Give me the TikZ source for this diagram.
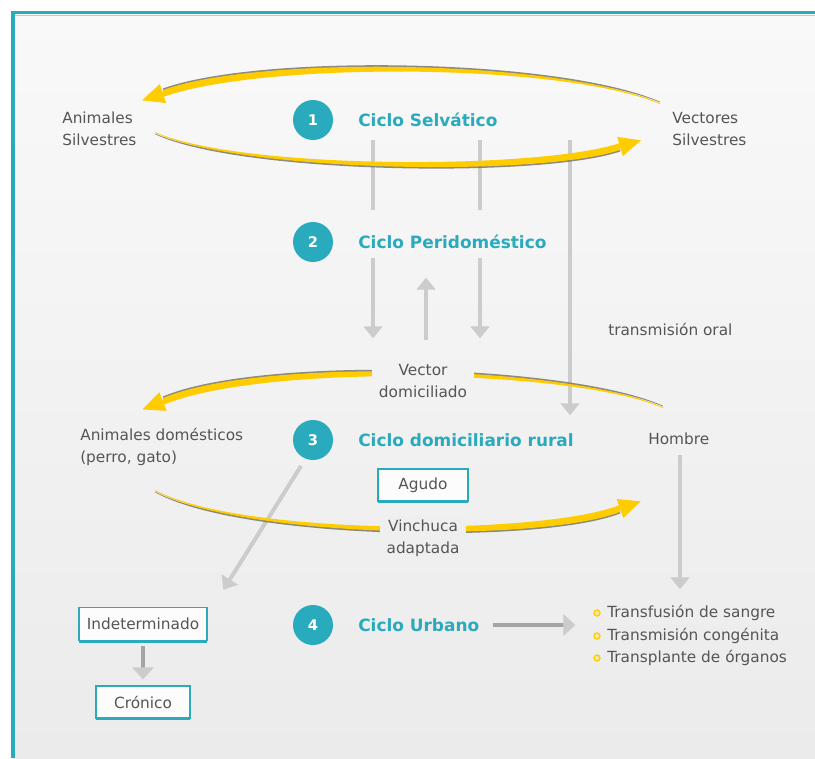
\documentclass[tikz,border=0pt]{standalone}
\usepackage{fontspec}
\setmainfont{DejaVu Sans}
\usetikzlibrary{arrows.meta,calc}
\definecolor{teal1}{HTML}{2AAABD}
\definecolor{ylw}{HTML}{FFCC00}
\definecolor{txt}{HTML}{555555}
\definecolor{lgray}{HTML}{CCCCCC}
\definecolor{dgray}{HTML}{A5A5A5}
\definecolor{bgtop}{HTML}{F9F9F9}
\definecolor{bgbot}{HTML}{EBEBEB}
\definecolor{bgmidA}{HTML}{F2F2F2}
\definecolor{bgmidB}{HTML}{EFEFEF}
\definecolor{shad}{HTML}{6A6658}

\newcommand\yarrow[5]{%
  \coordinate (ym) at ($#4+0.5*#5$);
  \begin{scope}[shift={($0.22*#5$)}]
    \fill[shad, opacity=0.75] #1 .. controls #2 and #3 .. #4 -- ($#4+#5$) .. controls ($#3+#5$) and ($#2+0.35*#5$) .. ($#1+0.1*#5$) -- cycle;
  \end{scope}
  \fill[ylw] #1 .. controls #2 and #3 .. #4 -- ($#4+#5$) .. controls ($#3+#5$) and ($#2+0.35*#5$) .. ($#1+0.1*#5$) -- cycle;
  \fill[ylw] ($(ym)!-16.5pt!#3$) -- ($(ym)!7.5pt!90:#3$) -- ($(ym)!7.5pt!-90:#3$) -- cycle;
}

\begin{document}
\begin{tikzpicture}[x=0.75pt,y=-0.75pt,
  lbl/.style={text=txt, font=\fontsize{11.5pt}{16.5pt}\selectfont, inner sep=0pt, align=left},
  ttl/.style={anchor=west, text=teal1, font=\bfseries\fontsize{12.7pt}{15pt}\selectfont, inner sep=0pt},
  circ/.style={circle, fill=teal1, minimum size=30pt, inner sep=0pt, text=white, font=\bfseries\fontsize{11pt}{11pt}\selectfont},
  tbox/.style={draw=teal1, line width=1pt, fill=white!50!bgtop, text=txt, font=\fontsize{11.5pt}{14pt}\selectfont, inner sep=0pt},
  gline/.style={draw=lgray, line width=3pt},
  garrow/.style={draw=lgray, line width=3pt, -{Triangle[length=9pt,width=14pt,sep=2pt]}},
  darrow/.style={draw=dgray, line width=3.6pt, -{Triangle[length=9pt,width=16pt,sep=2pt,color=lgray]}},
  bul/.style={circle, draw=ylw, line width=1pt, fill=ylw!35, minimum size=4.5pt, inner sep=0pt}
]
\useasboundingbox (0,0) rectangle (815,758);
\fill[white] (0,0) rectangle (815,758);
\shade[top color=bgtop, bottom color=bgbot] (13,13) rectangle (815,758);
\draw[teal1!45, line width=0.8pt] (14,15.5) -- (815,15.5);
\draw[teal1, line width=2.3pt] (11,12.5) -- (815,12.5);
\draw[teal1, line width=2.3pt] (13,11) -- (13,758);

% coordinates for gray connectors
\coordinate (a1) at (373,140); \coordinate (a2) at (373,210);
\coordinate (a3) at (373,258); \coordinate (a4) at (373,341);
\coordinate (b1) at (480,140); \coordinate (b2) at (480,210);
\coordinate (b3) at (480,258); \coordinate (b4) at (480,341);
\coordinate (u1) at (426,340); \coordinate (u2) at (426,275);
\coordinate (o1) at (570,140); \coordinate (o2) at (570,418);
\coordinate (h1) at (680,455); \coordinate (h2) at (680,592);
\coordinate (d1) at (301,466); \coordinate (d2) at (222,592);

\draw[gline] (a1) -- (a2);
\draw[gline] (b1) -- (b2);
\draw[garrow] (a3) -- (a4);
\draw[garrow] (b3) -- (b4);
\draw[garrow] (u1) -- (u2);
\draw[garrow] (o1) -- (o2);
\draw[garrow] (h1) -- (h2);
\draw[garrow] (d1) -- (d2);

% yellow cycles
\yarrow{(660,104)}{(560,62)}{(260,62)}{(163,97)}{(0,-7)}
\yarrow{(155,132)}{(240,170)}{(540,170)}{(620,143)}{(0,7)}
\yarrow{(663,408)}{(570,368)}{(260,364)}{(163,405)}{(0,-7)}
\yarrow{(155,490)}{(240,536)}{(540,536)}{(620,505)}{(0,7)}

% texts
\node[lbl, anchor=west] (anim) at (62,129) {Animales\\Silvestres};
\node[lbl, anchor=west] (vect) at (672,129) {Vectores\\Silvestres};
\node[circ] (c1) at (313,120) {1};
\node[ttl] (t1) at (358,120) {Ciclo Selvático};
\node[circ] (c2) at (313,242) {2};
\node[ttl] (t2) at (358,242) {Ciclo Peridoméstico};
\node[lbl, anchor=west] (oral) at (608,329) {transmisión oral};
\node[lbl, align=center, fill=bgmidA, inner xsep=5pt, inner ysep=2pt] (vdom) at (423,381) {Vector\\domiciliado};
\node[lbl, anchor=west] (adom) at (80,447) {Animales domésticos\\(perro, gato)};
\node[circ] (c3) at (313,440) {3};
\node[ttl] (t3) at (358,440) {Ciclo domiciliario rural};
\node[lbl, anchor=west] (hom) at (648,439) {Hombre};
\node[tbox, minimum width=67.5pt, minimum height=24pt] (agudo) at (423,485) {Agudo};
\node[lbl, align=center, fill=bgmidB, inner xsep=5pt, inner ysep=2pt] (vinch) at (423,538) {Vinchuca\\adaptada};
\node[tbox, minimum width=96pt, minimum height=25pt] (indet) at (143,624) {Indeterminado};
\node[tbox, minimum width=70.5pt, minimum height=24pt] (cron) at (143,702) {Crónico};
\draw[teal1, line width=1.8pt] ([xshift=0.5pt]agudo.south west) -- ([xshift=-0.5pt]agudo.south east);
\draw[teal1, line width=1.8pt] ([xshift=0.5pt]indet.south west) -- ([xshift=-0.5pt]indet.south east);
\draw[teal1, line width=1.8pt] ([xshift=0.5pt]cron.south west) -- ([xshift=-0.5pt]cron.south east);
\node[circ] (c4) at (313,625) {4};
\node[ttl] (t4) at (358,625) {Ciclo Urbano};

\node[bul] (p1) at (597,613) {};
\node[bul] (p2) at (597,636) {};
\node[bul] (p3) at (597,658) {};
\node[lbl, anchor=west] (l1) at (607,613) {Transfusión de sangre};
\node[lbl, anchor=west] (l2) at (607,636) {Transmisión congénita};
\node[lbl, anchor=west] (l3) at (607,658) {Transplante de órganos};

\coordinate (r1) at (493,625); \coordinate (r2) at (578,625);
\draw[darrow] (r1) -- (r2);
\coordinate (i1) at (143,646); \coordinate (i2) at (143,682);
\draw[darrow] (i1) -- (i2);
\end{tikzpicture}
\end{document}
